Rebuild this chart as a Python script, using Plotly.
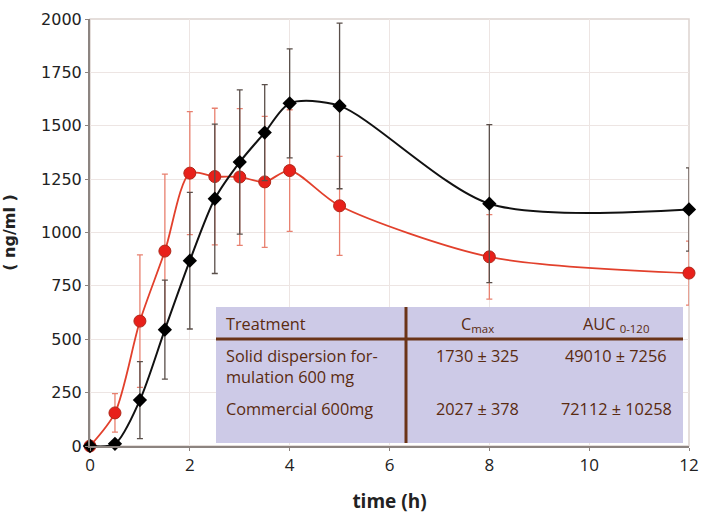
import plotly.graph_objects as go

time = [0, 0.5, 1, 1.5, 2, 2.5, 3, 3.5, 4, 5, 8, 12]
black_vals = [0, 10, 215, 545, 868, 1158, 1330, 1468, 1605, 1593, 1135, 1108]
black_err = [0, 12, 180, 232, 320, 350, 338, 225, 255, 388, 370, 195]
red_vals = [0, 155, 585, 913, 1278, 1262, 1260, 1237, 1290, 1125, 886, 810]
red_err = [0, 90, 310, 360, 288, 320, 320, 307, 285, 232, 198, 150]

header = ["Treatment", "C<sub>max</sub>", "AUC <sub>0-120</sub>"]
row1 = ["Solid dispersion for-<br>mulation 600 mg", "1730 ± 325", "49010 ± 7256"]
row2 = ["Commercial 600mg", "2027 ± 378", "72112 ± 10258"]

W, H = 702, 514
L, R, T, B = 90, 689, 19, 446


def px(x):
    return (x - L) / (R - L)


def py(y):
    return (B - y) / (B - T)


fig = go.Figure()
fig.add_trace(go.Scatter(
    x=time, y=red_vals, mode="lines+markers",
    line=dict(color="#e2402c", width=1.8, shape="spline", smoothing=0.8),
    marker=dict(symbol="circle", size=12, color="#e8201a", line=dict(color="#b0281a", width=1)),
    error_y=dict(type="data", array=red_err, color="#e8806f", thickness=1.3, width=3),
    cliponaxis=False, showlegend=False))
fig.add_trace(go.Scatter(
    x=time, y=black_vals, mode="lines+markers",
    line=dict(color="#111111", width=2, shape="spline", smoothing=0.8),
    marker=dict(symbol="diamond", size=11, color="#000000"),
    error_y=dict(type="data", array=black_err, color="#5a4f4a", thickness=1.3, width=3),
    cliponaxis=False, showlegend=False))

brown = "#5a2a10"
shapes = [
    dict(type="rect", xref="paper", yref="paper", x0=0, x1=1, y0=0, y1=1,
         line=dict(color="#ddd3d0", width=1.5), layer="below"),
    dict(type="rect", xref="paper", yref="paper", x0=px(216), x1=px(683), y0=py(443), y1=py(307),
         fillcolor="#cdcae7", line=dict(width=0), layer="above"),
    dict(type="line", xref="paper", yref="paper", x0=px(216), x1=px(683), y0=py(339), y1=py(339),
         line=dict(color="#6b3418", width=3), layer="above"),
    dict(type="line", xref="paper", yref="paper", x0=px(406), x1=px(406), y0=py(443), y1=py(307),
         line=dict(color="#6b3418", width=3), layer="above"),
]

tfont = dict(family="Open Sans, Noto Sans, sans-serif", size=16.3, color=brown)
ann = []
col_x = [(224, "left"), (477, "center"), (616, "center")]
for (cx, anc), txt in zip(col_x, header):
    ann.append(dict(xref="paper", yref="paper", x=px(cx), y=py(324), text=txt, showarrow=False,
                    xanchor=anc, yanchor="middle", font=tfont))
for i, ((cx, anc), txt) in enumerate(zip(col_x, row1)):
    yy = 366 if i == 0 else 356
    ann.append(dict(xref="paper", yref="paper", x=px(cx), y=py(yy), text=txt, showarrow=False,
                    xanchor=anc, yanchor="middle", align="left", font=tfont))
for (cx, anc), txt in zip(col_x, row2):
    ann.append(dict(xref="paper", yref="paper", x=px(cx), y=py(409), text=txt, showarrow=False,
                    xanchor=anc, yanchor="middle", font=tfont))

fig.update_layout(
    width=W, height=H,
    margin=dict(l=L, r=W - R, t=T, b=H - B, pad=0, autoexpand=False),
    plot_bgcolor="white", paper_bgcolor="white",
    shapes=shapes, annotations=ann,
    xaxis=dict(range=[0, 12], dtick=2, tick0=0, showgrid=True, gridcolor="#ede5e3", gridwidth=1,
               showline=True, linecolor="#8c8480", linewidth=2, ticks="outside", ticklen=3,
               tickcolor="#8c8480", zeroline=False, automargin=False,
               tickfont=dict(family="Liberation Sans Narrow, Open Sans, sans-serif", size=17, color="#222"),
               title=dict(text="<b>time (h)</b>", standoff=20,
                          font=dict(family="Liberation Sans Narrow, Open Sans, sans-serif", size=19, color="#222"))),
    yaxis=dict(range=[0, 2000], dtick=250, tick0=0, showgrid=True, gridcolor="#ede5e3", gridwidth=1,
               showline=True, linecolor="#8c8480", linewidth=2, ticks="outside", ticklen=3,
               tickcolor="#8c8480", zeroline=False, automargin=False,
               tickfont=dict(family="DejaVu Sans, sans-serif", size=16, color="#222"),
               title=dict(text="<b>( ng/ml )</b>", standoff=22,
                          font=dict(family="DejaVu Sans, sans-serif", size=16, color="#222"))),
)

fig.write_html("out.html")
